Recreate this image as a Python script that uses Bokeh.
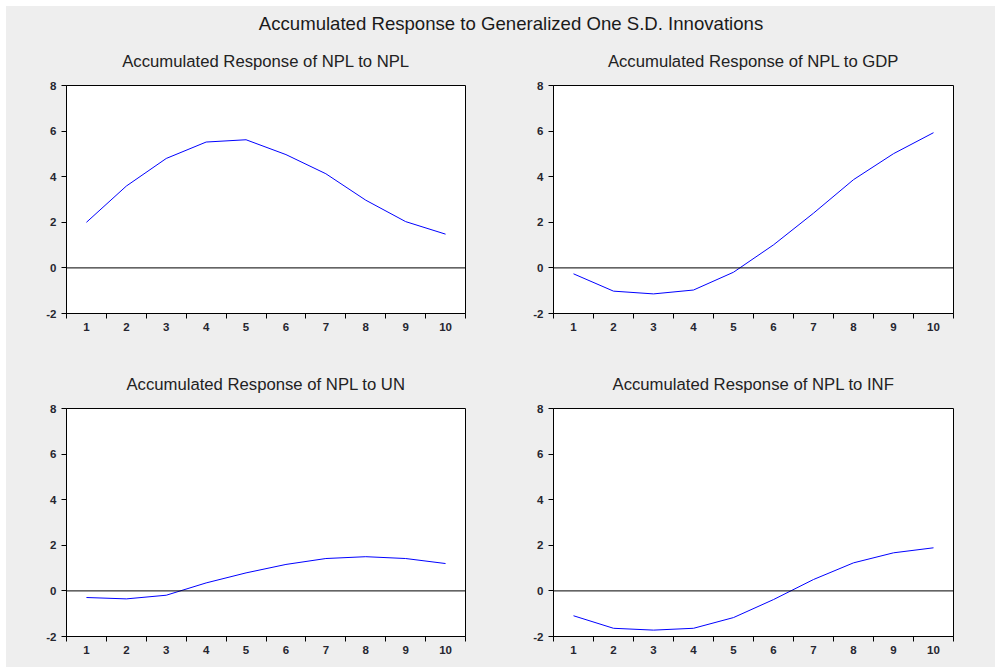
from bokeh.plotting import figure
from bokeh.layouts import column, row
from bokeh.models import FixedTicker, Span, Range1d, Title
from bokeh.embed import file_html
from bokeh.resources import INLINE

# ---- data ----
periods = [1, 2, 3, 4, 5, 6, 7, 8, 9, 10]
npl_to_npl = [2.00, 3.59, 4.80, 5.52, 5.62, 4.97, 4.13, 2.97, 2.03, 1.48]
npl_to_gdp = [-0.26, -1.02, -1.14, -0.97, -0.19, 1.01, 2.40, 3.87, 5.01, 5.93]
npl_to_un = [-0.29, -0.35, -0.19, 0.35, 0.79, 1.16, 1.42, 1.50, 1.42, 1.20]
npl_to_inf = [-1.09, -1.64, -1.72, -1.64, -1.17, -0.38, 0.50, 1.23, 1.67, 1.89]
y_ticks = [-2, 0, 2, 4, 6, 8]

main_title = "Accumulated Response to Generalized One S.D. Innovations"
titles = ["Accumulated Response of NPL to NPL", "Accumulated Response of NPL to GDP",
          "Accumulated Response of NPL to UN", "Accumulated Response of NPL to INF"]

BG = "#eeeeee"
FONT = "Liberation Sans"


def panel(title, values, width, height, bl, br, bt, bb):
    p = figure(width=width, height=height, output_backend="svg", toolbar_location=None,
               x_range=Range1d(periods[0] - 0.5, periods[-1] + 0.5),
               y_range=Range1d(y_ticks[0], y_ticks[-1]),
               min_border_left=bl, min_border_right=br, min_border_top=bt, min_border_bottom=bb)
    p.border_fill_color = BG
    p.background_fill_color = "white"
    p.outline_line_color = "black"
    p.outline_line_width = 1
    p.grid.visible = False
    p.title = Title(text=title, align="center", text_font=FONT, text_font_size="16.7px",
                    text_font_style="normal", text_color="#222222", standoff=30)

    bounds = [c - 0.5 for c in periods] + [periods[-1] + 0.5]
    p.xaxis.ticker = FixedTicker(ticks=periods, minor_ticks=bounds)
    p.xaxis.major_tick_line_color = None
    p.xaxis.major_tick_out = 0
    p.xaxis.major_tick_in = 0
    p.xaxis.minor_tick_out = 5
    p.xaxis.minor_tick_in = 0
    p.xaxis.minor_tick_line_color = "black"
    p.xaxis.major_label_standoff = 4

    p.yaxis.ticker = FixedTicker(ticks=y_ticks, minor_ticks=[])
    p.yaxis.major_tick_out = 5
    p.yaxis.major_tick_in = 0
    p.yaxis.major_label_standoff = 5
    p.yaxis.major_label_overrides = {t: str(t) for t in y_ticks}

    for ax in (p.xaxis, p.yaxis):
        ax.axis_line_color = "black"
        ax.major_label_text_font = FONT
        ax.major_label_text_font_size = "11.5px"
        ax.major_label_text_font_style = "bold"
        ax.major_label_text_color = "#262630"

    p.add_layout(Span(location=0, dimension="width", line_color="black", line_width=1))
    p.line(periods, values, line_color="#0000ff", line_width=1)
    return p


top = figure(width=989, height=28, output_backend="svg", toolbar_location=None,
             x_range=Range1d(0, 1), y_range=Range1d(0, 1),
             min_border_left=20, min_border_right=0, min_border_top=27, min_border_bottom=0)
top.border_fill_color = BG
top.background_fill_color = BG
top.outline_line_color = None
top.axis.visible = False
top.grid.visible = False
top.title = Title(text=main_title, align="center", text_font=FONT, text_font_size="18.6px",
                  text_font_style="normal", text_color="#1a1a1a", standoff=0)

p1 = panel(titles[0], npl_to_npl, 503, 311, 60, 44, 46, 32)
p2 = panel(titles[1], npl_to_gdp, 486, 311, 44, 42, 46, 32)
p3 = panel(titles[2], npl_to_un, 503, 322, 60, 44, 63, 31)
p4 = panel(titles[3], npl_to_inf, 486, 322, 44, 42, 63, 31)

bgstyle = {"background-color": BG}
r1 = row(p1, p2, styles=bgstyle)
r2 = row(p3, p4, styles=bgstyle)
layout = column(top, r1, r2, styles=bgstyle, margin=(6, 0, 0, 6))

open("out.html", "w").write(file_html(layout, INLINE))
